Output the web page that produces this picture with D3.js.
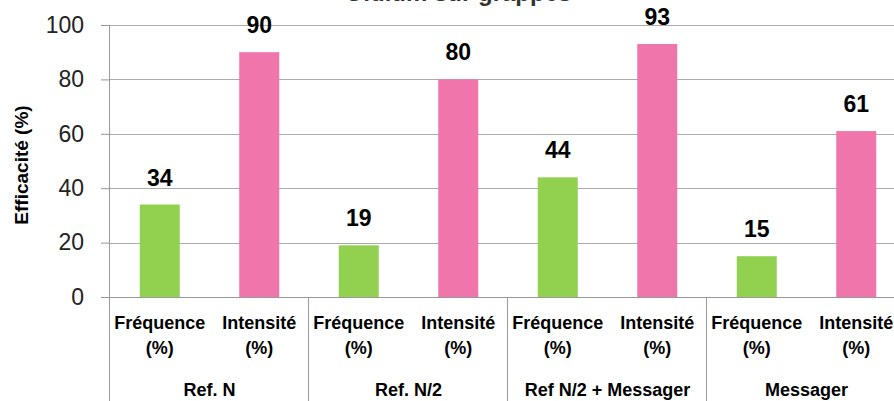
<!DOCTYPE html>
<html>
<head>
<meta charset="utf-8">
<script src="https://cdn.jsdelivr.net/npm/d3@7"></script>
<style>
  body { margin: 0; background: #fff; }
  svg text { font-family: "Liberation Sans", Arial, sans-serif; }
</style>
</head>
<body>
<svg id="chart" width="894" height="401"></svg>
<script>
const groups = ["Ref. N", "Ref. N/2", "Ref N/2 + Messager", "Messager"];
const metrics = ["Fréquence", "Intensité"];
const frequence = [34, 19, 44, 15];
const intensite = [90, 80, 93, 61];
const yTicks = [0, 20, 40, 60, 80, 100];

const margin = { top: 25, left: 110, bottom: 104 };
const plotRight = 906;
const height = 401 - margin.top - margin.bottom;

const svg = d3.select("#chart");
const plot = svg.append("g").attr("transform", `translate(${margin.left},${margin.top})`);

const x = d3.scaleBand().domain(groups).range([0, plotRight - margin.left]);
const sub = d3.scaleBand().domain(metrics).range([0, x.bandwidth()]);
const y = d3.scaleLinear().domain([0, 100]).range([height, 0]);
const color = d3.scaleOrdinal().domain(metrics).range(["#92D050", "#F075AA"]);

const rows = [];
groups.forEach((g, i) => {
    rows.push({ group: g, metric: "Fréquence", value: frequence[i] });
    rows.push({ group: g, metric: "Intensité", value: intensite[i] });
});

// title (cut off by top edge, as in the source picture)
svg.append("text")
    .attr("x", 458)
    .attr("y", 1)
    .attr("text-anchor", "middle")
    .style("font-size", "24px")
    .style("font-weight", "bold")
    .style("fill", "#333")
    .text("Oïdium sur grappes");

// gridlines
plot.selectAll(".grid")
    .data(yTicks.slice(1))
    .join("line")
    .attr("class", "grid")
    .attr("x1", 0).attr("x2", plotRight)
    .attr("y1", d => Math.round(y(d)) + 0.5).attr("y2", d => Math.round(y(d)) + 0.5)
    .attr("stroke", "#ABABAB");

// y axis
const yAxis = plot.append("g")
    .call(d3.axisLeft(y).tickValues(yTicks).tickSize(9).tickPadding(17));
yAxis.select(".domain").attr("stroke", "#999").attr("d", `M-0.5,${height}V0`);
yAxis.selectAll(".tick line").attr("stroke", "#999");
yAxis.selectAll(".tick text")
    .style("font-size", "23px")
    .style("fill", "#222")
    .style("font-family", "'Liberation Sans', Arial, sans-serif");

svg.append("text")
    .attr("transform", `translate(28,${margin.top + height / 2 + 4}) rotate(-90)`)
    .attr("text-anchor", "middle")
    .style("font-size", "19px")
    .style("font-weight", "bold")
    .text("Efficacité (%)");

// bars
const barW = 40;
plot.selectAll(".bar")
    .data(rows)
    .join("rect")
    .attr("class", "bar")
    .attr("x", d => x(d.group) + sub(d.metric) + sub.bandwidth() / 2 - barW / 2)
    .attr("y", d => y(d.value))
    .attr("width", barW)
    .attr("height", d => height - y(d.value))
    .attr("fill", d => color(d.metric));

plot.selectAll(".val")
    .data(rows)
    .join("text")
    .attr("class", "val")
    .attr("x", d => x(d.group) + sub(d.metric) + sub.bandwidth() / 2)
    .attr("y", d => y(d.value) - 19)
    .attr("text-anchor", "middle")
    .style("font-size", "23px")
    .style("font-weight", "bold")
    .text(d => d.value);

// x axis line
plot.append("line")
    .attr("x1", 0).attr("x2", plotRight)
    .attr("y1", height + 0.5).attr("y2", height + 0.5)
    .attr("stroke", "#999");

// group separators
const seps = groups.map(g => x(g)).concat([x.range()[1]]);
plot.selectAll(".sep")
    .data(seps)
    .join("line")
    .attr("x1", d => Math.round(d) - 0.5).attr("x2", d => Math.round(d) - 0.5)
    .attr("y1", height).attr("y2", 401 - margin.top)
    .attr("stroke", "#999");

// sub labels
rows.forEach(d => {
    const cx = x(d.group) + sub(d.metric) + sub.bandwidth() / 2;
    const t = plot.append("text")
        .attr("x", cx)
        .attr("text-anchor", "middle")
        .style("font-size", "18px")
        .style("font-weight", "bold");
    t.append("tspan").attr("x", cx).attr("y", height + 32).text(d.metric);
    t.append("tspan").attr("x", cx).attr("y", height + 57).text("(%)");
});

plot.selectAll(".grp")
    .data(groups)
    .join("text")
    .attr("class", "grp")
    .attr("x", d => x(d) + x.bandwidth() / 2)
    .attr("y", height + 99)
    .attr("text-anchor", "middle")
    .style("font-size", "18px")
    .style("font-weight", "bold")
    .text(d => d);
</script>
</body>
</html>
